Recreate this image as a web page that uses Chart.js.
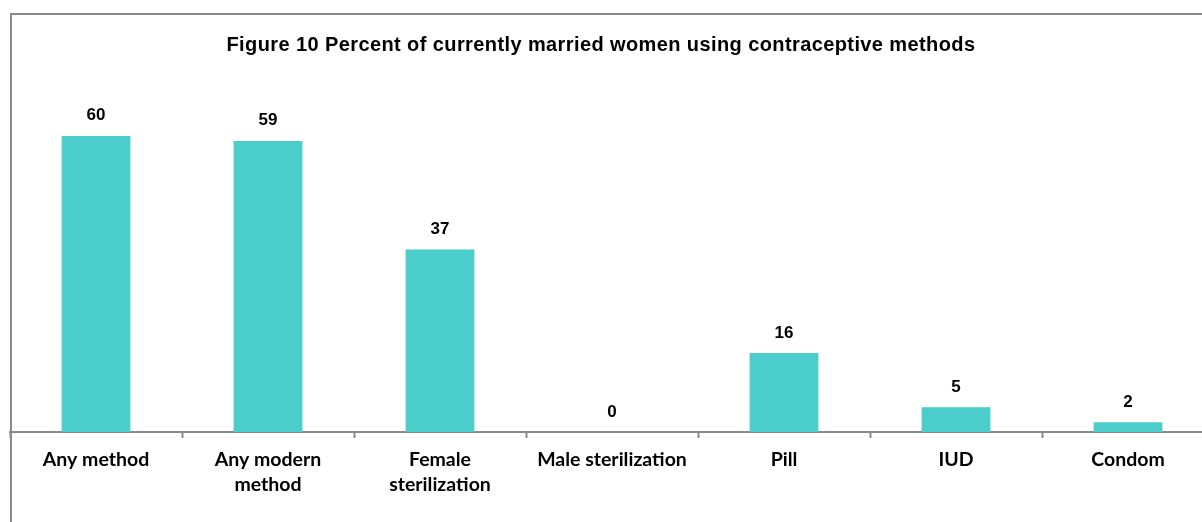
<!DOCTYPE html>
<html>
<head>
<meta charset="utf-8">
<script src="https://cdn.jsdelivr.net/npm/chart.js@4/dist/chart.umd.min.js"></script>
<style>
  html, body { margin: 0; padding: 0; background: #fff; overflow: hidden; width: 1202px; height: 522px; }
  #frame { position: absolute; left: 10px; top: 13px; width: 1300px; height: 600px; border: 2px solid #8a8a8a; box-sizing: border-box; pointer-events: none; z-index: 2; }
  #chart { position: absolute; left: -12px; top: 0; }
</style>
</head>
<body>
<div id="frame"></div>
<canvas id="chart" width="1260" height="522"></canvas>
<script>
// Contraceptive use among currently married women (percent)
const categories = [
  'Any method',
  ['Any modern', 'method'],
  ['Female', 'sterilization'],
  'Male sterilization',
  'Pill',
  'IUD',
  'Condom'
];
const percentUsing = [60, 59, 37, 0, 16, 5, 2];
const chartTitle = 'Figure 10 Percent of currently married women using contraceptive methods';

const BAR_COLOR = '#4BCDCC';
const AXIS_COLOR = '#8a8a8a';

// Writes each bar's value above it
const valueLabels = {
  id: 'valueLabels',
  afterDatasetsDraw(chart) {
    const ctx = chart.ctx;
    const meta = chart.getDatasetMeta(0);
    ctx.save();
    ctx.font = 'bold 17px "Liberation Sans", Arial, sans-serif';
    ctx.fillStyle = '#000';
    ctx.textAlign = 'center';
    ctx.textBaseline = 'alphabetic';
    meta.data.forEach((bar, i) => {
      ctx.fillText(String(percentUsing[i]), bar.x, bar.y - 15.5);
    });
    ctx.restore();
  }
};

// Gives the title a touch of extra letter spacing
const spacedTitle = {
  id: 'spacedTitle',
  afterInit(chart) {
    const box = chart.titleBlock;
    if (!box) return;
    const drawTitle = box.draw.bind(box);
    box.draw = function () {
      const ctx = chart.ctx;
      ctx.save();
      ctx.letterSpacing = '0.4px';
      drawTitle();
      ctx.restore();
    };
  }
};

new Chart(document.getElementById('chart'), {
  type: 'bar',
  data: {
    labels: categories,
    datasets: [{
      data: percentUsing,
      backgroundColor: BAR_COLOR,
      borderWidth: 0,
      categoryPercentage: 1,
      barPercentage: 0.4
    }]
  },
  options: {
    responsive: false,
    animation: false,
    layout: { padding: { left: 0, right: 34, top: 0, bottom: 0 } },
    plugins: {
      legend: { display: false },
      tooltip: { enabled: false },
      title: {
        display: true,
        text: chartTitle,
        color: '#000',
        font: { family: '"Liberation Sans", Arial, sans-serif', size: 20, weight: 'bold', lineHeight: 1.2 },
        padding: { top: 33, bottom: 29.6 }
      }
    },
    scales: {
      x: {
        offset: true,
        grid: {
          display: true,
          offset: true,
          drawOnChartArea: false,
          drawTicks: true,
          tickLength: 6,
          tickWidth: 2,
          tickColor: AXIS_COLOR,
          color: AXIS_COLOR
        },
        border: { display: true, color: AXIS_COLOR, width: 2 },
        ticks: {
          color: '#000',
          maxRotation: 0,
          autoSkip: false,
          padding: 10,
          font: { family: 'Lato, "Open Sans", sans-serif', size: 19.5, weight: 'bold', lineHeight: 1.24 }
        },
        afterFit(scale) { scale.height = 90; }
      },
      y: {
        display: true,
        min: 0,
        max: 70,
        grid: { display: false },
        border: { display: false },
        ticks: { display: false },
        afterFit(scale) { scale.width = 22; }
      }
    }
  },
  plugins: [spacedTitle, valueLabels]
});
</script>
</body>
</html>
